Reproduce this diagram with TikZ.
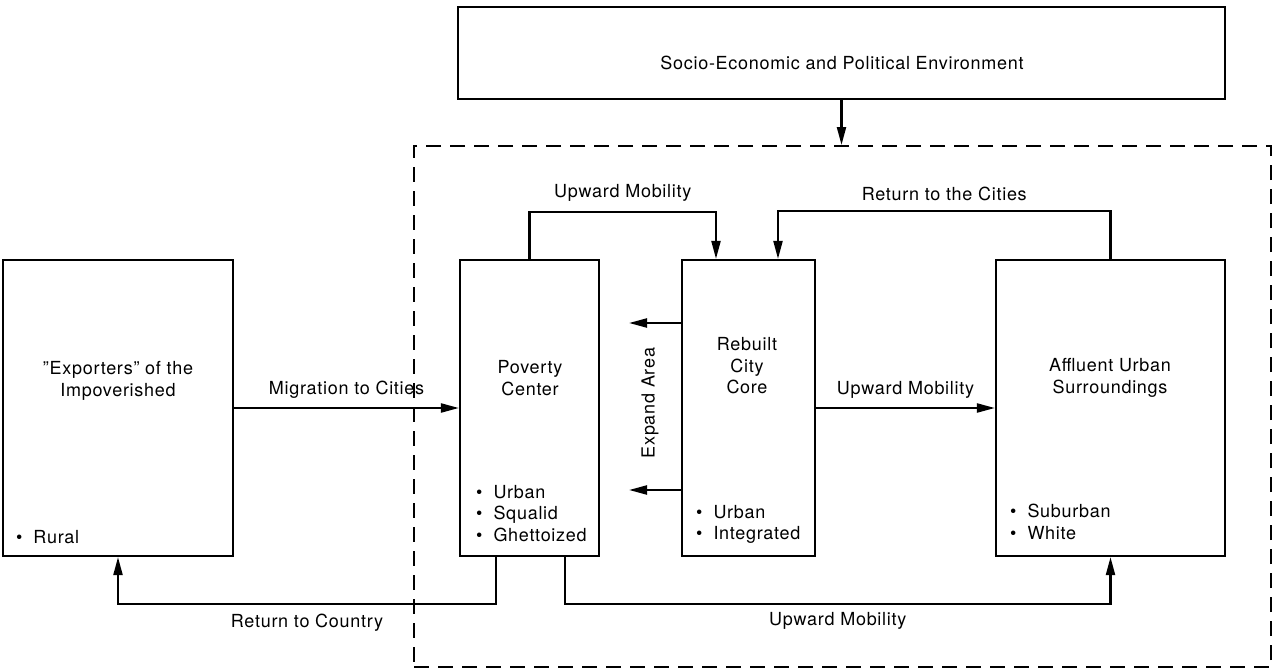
\documentclass[tikz,border=0pt]{standalone}
\usepackage{fontspec}
\setmainfont{TeX Gyre Heros}[LetterSpace=4]
\usetikzlibrary{arrows.meta,positioning}
\tikzset{
    %Define standard arrow tip
    >={Triangle[length=18pt,width=9pt]},
    %Define style for boxes
    region/.style={
           rectangle,
           draw=black, line width=2.2pt,
           inner sep=0pt,
           minimum height=296pt},
    zone/.style={
           rectangle,
           draw=black, line width=2pt,
           dash pattern=on 15pt off 9pt},
    title/.style={
           align=center,
           inner sep=0pt},
    traits/.style={
           align=left,
           anchor=north west,
           inner sep=0pt},
    % Define arrow style
    flow/.style={
           ->,
           line width=2.2pt},
}
\newcommand{\blt}{\textbullet\hspace{11pt}}

\begin{document}
\begin{tikzpicture}[x=1pt,y=-1pt,font=\fontsize{18}{21.5}\selectfont]
\useasboundingbox (0,0) rectangle (1278,669);
\node[region,minimum width=767pt,minimum height=92pt](env) at (841.5,53){};
\node[title](envt) at (842,63){Socio-Economic and Political Environment};
\node[zone,minimum width=857pt,minimum height=521pt](zone) at (842.5,406.5){};
% boxes
\node[region,minimum width=230pt](exp) at (118,408){};
\node[region,minimum width=139pt](pov) at (529.5,408){};
\node[region,minimum width=133pt](core) at (748.5,408){};
\node[region,minimum width=229pt](aff) at (1110.5,408){};
\node[title](expt) at (118,381){''Exporters'' of the\\Impoverished};
\node[title](povt) at (530,378){Poverty\\Center};
\node[title](coret) at (747,366){Rebuilt\\City\\Core};
\node[title](afft) at (1110,378){Affluent Urban\\Surroundings};
\node[traits](expl) at (16,530){\blt Rural};
\node[traits](povl) at (476,485){\blt Urban\\\blt Squalid\\\blt Ghettoized};
\node[traits](corel) at (696,505){\blt Urban\\\blt Integrated};
\node[traits](affl) at (1010,504){\blt Suburban\\\blt White};
\node[rotate=90](expand) at (650,403){Expand Area};
\coordinate (ex1) at (629,323);
\coordinate (ex2) at (629,490);
% connectors
\draw[flow] (env.south) -- (env.south |- zone.north);
\draw[flow] (exp.east) -- node[above=5pt]{Migration to Cities} (pov.west);
\draw[flow] (core.east) -- node[above=5pt]{Upward Mobility} (aff.west);
\draw[flow] (pov.north) -- ++(0,-47) -| node[pos=0.25,above=6pt]{Upward Mobility} ([xshift=-32.5pt]core.north);
\draw[flow] (aff.north) -- ++(0,-48) -| node[pos=0.25,above=6pt]{Return to the Cities} ([xshift=29.5pt]core.north);
\draw[flow] ([xshift=-33.5pt]pov.south) -- ++(0,47) -| node[pos=0.25,below=6pt]{Return to Country} (exp.south);
\draw[flow] ([xshift=35.5pt]pov.south) -- ++(0,47) -| node[pos=0.25,below=4pt]{Upward Mobility} (aff.south);
\draw[flow] (core.west |- ex1) -- (ex1);
\draw[flow] (core.west |- ex2) -- (ex2);
\end{tikzpicture}
\end{document}
